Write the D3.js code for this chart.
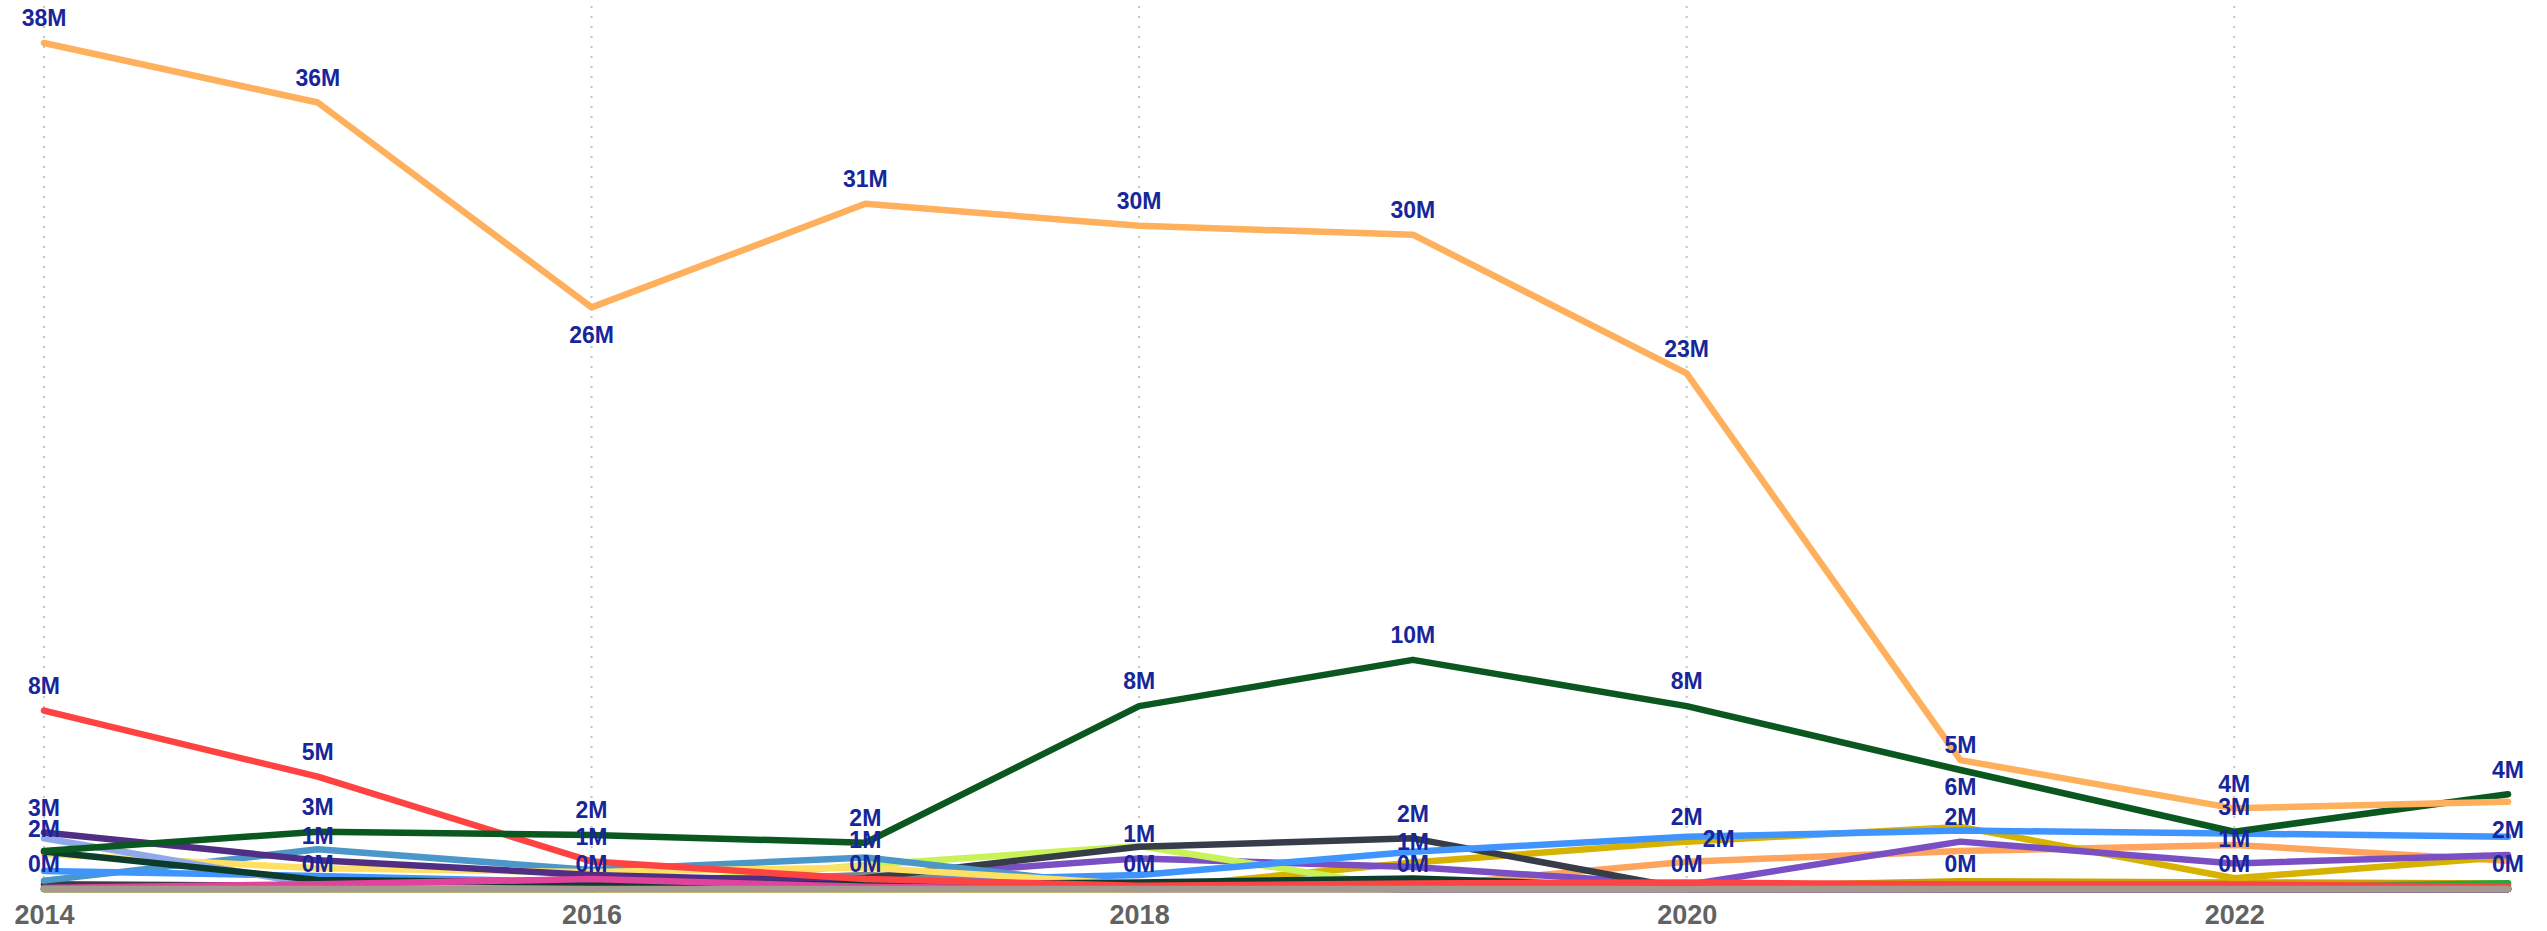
<!DOCTYPE html>
<html>
<head>
<meta charset="utf-8">
<script src="https://cdn.jsdelivr.net/npm/d3@7"></script>
<style>
  html, body { margin: 0; padding: 0; background: #ffffff; }
  svg { display: block; }
</style>
</head>
<body>
<svg id="chart" width="2547" height="931"></svg>
<script>
// ---- data -------------------------------------------------------------
const years = [2014, 2015, 2016, 2017, 2018, 2019, 2020, 2021, 2022, 2023];
const xTickValues = [2014, 2016, 2018, 2020, 2022];

// yearly values, in millions
const seriesA = [38.4, 35.7, 26.4, 31.1, 30.1, 29.7, 23.4, 5.85, 3.66, 3.96];
const seriesB = [8.1, 5.1, 1.25, 0.45, 0.15, 0.25, 0.3, 0.2, 0.2, 0.1];
const seriesC = [1.72, 2.6, 2.45, 2.1, 8.3, 10.4, 8.3, 5.4, 2.6, 4.3];
const seriesD = [2.56, 1.3, 0.64, 0.3, 0.1, 0, 0, 0, 0, 0];
const seriesE = [2.3, 0.18, 0.1, 0.12, 0.1, 0.05, 0, 0, 0, 0];
const seriesF = [1.59, 0.94, 0.77, 0.98, 0.2, 0.1, 0, 0, 0, 0];
const seriesG = [0.82, 0.59, 0.3, 0.33, 0.64, 1.69, 2.37, 2.65, 2.52, 2.37];
const seriesH = [0.38, 1.8, 0.86, 1.43, 0.05, 0, 0, 0, 0, 0];
const seriesI = [0.21, 0.14, 0.45, 0.5, 1.92, 2.3, 0, 0, 0, 0];
const seriesJ = [0, 0, 0, 1.09, 1.95, 0, 0, 0, 0, 0];
const seriesK = [0, 0, 0.15, 0.64, 0.1, 0, 0, 0, 0, 0];
const seriesL = [0, 0, 0, 0.5, 1.39, 1.0, 0.18, 2.15, 1.16, 1.54];
const seriesM = [0, 0, 0, 0, 0, 1.2, 2.15, 2.82, 0.49, 1.46];
const seriesN = [0, 0, 0, 0, 0, 0.1, 1.24, 1.72, 2.0, 1.28];
const seriesO = [0, 0, 0, 0, 0, 0, 0, 0, 0.05, 0.26];
const seriesP = [0.05, 0.22, 0.45, 0.1, 0, 0, 0, 0, 0, 0];
const seriesQ = [0, 0, 0, 0, 0, 0, 0, 0, 0, 0];
const seriesR = [1.7, 0.41, 0.28, 0.2, 0.3, 0.48, 0.05, 0, 0, 0];
const seriesS = [0, 0, 0, 0, 0, 0, 0.1, 0.35, 0.3, 0.25];

// points that carry a value label: [series key, year]
const valueLabels = [
  ["A", 2014], ["B", 2014], ["D", 2014], ["F", 2014], ["Q", 2014],
  ["A", 2015], ["B", 2015], ["C", 2015], ["D", 2015], ["Q", 2015],
  ["A", 2016], ["C", 2016], ["B", 2016], ["Q", 2016],
  ["A", 2017], ["C", 2017], ["J", 2017], ["Q", 2017],
  ["A", 2018], ["C", 2018], ["L", 2018], ["Q", 2018],
  ["A", 2019], ["C", 2019], ["I", 2019], ["L", 2019], ["Q", 2019],
  ["A", 2020], ["C", 2020], ["M", 2020], ["G", 2020], ["Q", 2020],
  ["A", 2021], ["C", 2021], ["L", 2021], ["Q", 2021],
  ["A", 2022], ["C", 2022], ["L", 2022], ["Q", 2022],
  ["C", 2023], ["L", 2023], ["Q", 2023]
];

// ---- series table (drawing order: first is at the back) ---------------
const palette = {
  S: "#c9a400", O: "#22a83f", N: "#ffa45c", M: "#d8b200", L: "#7a4fc4",
  K: "#7d868e", J: "#c9f257", I: "#363c48", H: "#4b97c9", G: "#3f95fd",
  F: "#ffe065", E: "#8fa9ea", D: "#4f2e83", R: "#0c3d2c", P: "#e0429c",
  B: "#ff4343", C: "#0a571f", A: "#ffb05c", Q: "#a59a90"
};
const seriesValues = {
  A: seriesA, B: seriesB, C: seriesC, D: seriesD, E: seriesE, F: seriesF,
  G: seriesG, H: seriesH, I: seriesI, J: seriesJ, K: seriesK, L: seriesL,
  M: seriesM, N: seriesN, O: seriesO, P: seriesP, Q: seriesQ, R: seriesR,
  S: seriesS
};
const drawOrder = ["S","O","N","M","L","K","J","I","H","G","F","E","D","R","P","B","C","A","Q"];

const series = drawOrder.map(key => ({
  key,
  color: palette[key],
  points: years.map((yr, i) => ({ year: yr, value: seriesValues[key][i] }))
}));

// ---- layout -----------------------------------------------------------
const width = 2547, height = 931;
const svg = d3.select("#chart");
svg.append("rect").attr("width", width).attr("height", height).attr("fill", "#ffffff");

const x = d3.scaleLinear().domain(d3.extent(years)).range([44, 2508]);
const maxValue = d3.max(series, s => d3.max(s.points, p => p.value));
const y = d3.scaleLinear().domain([0, maxValue]).range([889, 43]);

// dotted vertical grid at the labelled years
svg.append("g")
  .selectAll("line")
  .data(xTickValues)
  .join("line")
  .attr("x1", d => x(d)).attr("x2", d => x(d))
  .attr("y1", 6).attr("y2", 896)
  .attr("stroke", "#c4c4c4")
  .attr("stroke-width", 2)
  .attr("stroke-dasharray", "2 8");

// x axis labels
const xAxis = d3.axisBottom(x)
  .tickValues(xTickValues)
  .tickFormat(d3.format("d"))
  .tickSize(0)
  .tickPadding(16);
const axisG = svg.append("g")
  .attr("transform", `translate(0,${y(0)})`)
  .call(xAxis);
axisG.select(".domain").remove();
axisG.selectAll("text")
  .attr("fill", "#626262")
  .style("font-family", "'Liberation Sans', Arial, sans-serif")
  .style("font-size", "27px")
  .style("font-weight", "bold");

// lines
const line = d3.line()
  .x(d => x(d.year))
  .y(d => y(d.value));

svg.append("g")
  .attr("fill", "none")
  .attr("stroke-width", 6.5)
  .attr("stroke-linecap", "round")
  .attr("stroke-linejoin", "round")
  .selectAll("path")
  .data(series)
  .join("path")
  .attr("stroke", d => d.color)
  .attr("d", d => line(d.points));

// value labels
const labelG = svg.append("g")
  .style("font-family", "'Liberation Sans', Arial, sans-serif")
  .style("font-size", "23px")
  .style("font-weight", "bold")
  .attr("fill", "#17269a");

const byKey = Object.fromEntries(series.map(s => [s.key, s]));
const placed = [];
const boxH = 18;

function lineYAt(s, px) {
  // screen y of a series' polyline at screen x
  const pts = s.points;
  for (let i = 0; i < pts.length - 1; i++) {
    const x0 = x(pts[i].year), x1 = x(pts[i + 1].year);
    if (px >= x0 && px <= x1) {
      const t = (px - x0) / (x1 - x0);
      return y(pts[i].value) + t * (y(pts[i + 1].value) - y(pts[i].value));
    }
  }
  return null;
}

function overlaps(b) {
  return placed.some(o =>
    Math.abs(o.cx - b.cx) < (o.w + b.w) / 2 &&
    Math.abs(o.cy - b.cy) < boxH);
}

valueLabels.forEach(([key, yr]) => {
  const s = byKey[key];
  const p = s.points.find(d => d.year === yr);
  const px = x(p.year), py = y(p.value);
  const t = labelG.append("text")
    .attr("text-anchor", "middle")
    .text(Math.round(p.value) + "M");
  const w = t.node().getComputedTextLength();

  // above the point, unless the series' own line runs through that spot
  let cx = px, cy = py - 25;
  let crossesOwnLine = false;
  for (let sx = px - w / 2; sx <= px + w / 2; sx += 2) {
    const ly = lineYAt(s, sx);
    if (ly !== null && ly > cy - 11 && ly < cy + 11) { crossesOwnLine = true; break; }
  }
  if (crossesOwnLine) cy = py + 27;

  // step to the right of the point when another label already sits there
  if (overlaps({ cx, cy, w })) {
    cx = px + 16 + w / 2;
    cy = py + 2;
  }
  placed.push({ cx, cy, w });
  t.attr("x", cx).attr("y", cy).attr("dy", "0.36em");
});
</script>
</body>
</html>
